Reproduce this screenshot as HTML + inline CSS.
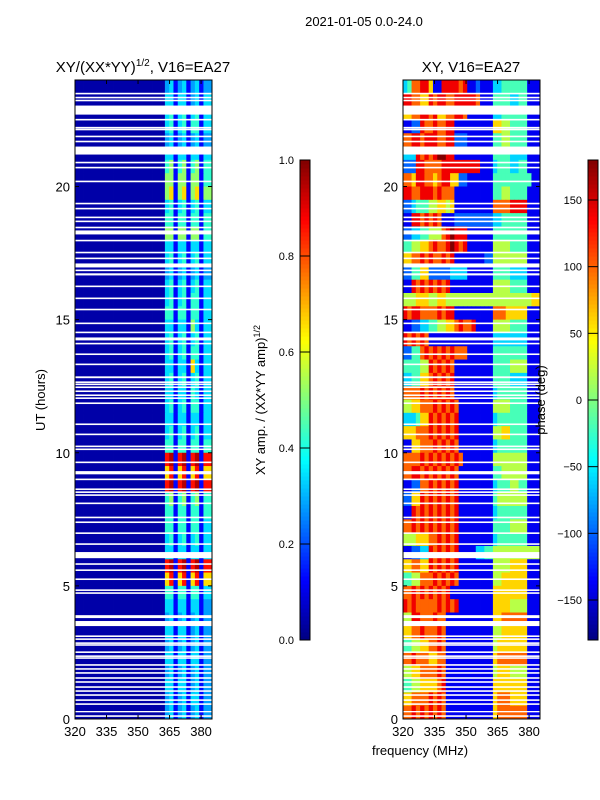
<!DOCTYPE html>
<html><head><meta charset="utf-8"><style>
html,body{margin:0;padding:0;background:#fff;}
svg{display:block;font-family:"Liberation Sans",sans-serif;}
</style></head><body>
<svg id="fig" width="600" height="800" viewBox="0 0 600 800" xmlns="http://www.w3.org/2000/svg">
<text x="364" y="26" font-size="13" text-anchor="middle">2021-01-05 0.0-24.0</text>
<text x="143" y="72" font-size="15" text-anchor="middle">XY/(XX*YY)<tspan font-size="10" dy="-6">1/2</tspan><tspan dy="6">, V16=EA27</tspan></text>
<text x="471" y="72" font-size="15" text-anchor="middle">XY, V16=EA27</text>
<g id="left"></g>
<g id="right"></g>
<g id="axes"></g>
<text transform="translate(45,400) rotate(-90)" font-size="13" text-anchor="middle">UT (hours)</text>
<text x="420" y="755" font-size="13" text-anchor="middle">frequency (MHz)</text>
<text transform="translate(265,400) rotate(-90)" font-size="13" text-anchor="middle">XY amp. / (XX*YY amp)<tspan font-size="9" dy="-5">1/2</tspan></text>
<text transform="translate(545,400) rotate(-90)" font-size="13" text-anchor="middle">phase (deg)</text>
<g id="cbars"></g>
</svg>
<script>
// ---- data ----
const freqRange = [320, 385.2];
const hourRange = [0, 24];
const xTicks = [320, 335, 350, 365, 380];
const yTicks = [0, 5, 10, 15, 20];
const ampTicks = [0.0, 0.2, 0.4, 0.6, 0.8, 1.0];
const phaseTicks = [-150, -100, -50, 0, 50, 100, 150];
// amplitude value for each level code 0-9
const ampLevels = [0.04, 0.13, 0.2, 0.28, 0.34, 0.42, 0.52, 0.66, 0.86, 0.95];
// amplitude rows, top (23.5-24h) to bottom (0-0.5h)
const ampBg = "000000000000000000000";
const ampStripes = [
"34134134133","44144134144","45145145144","45145155144","34134134133","44144144144",
"56156156155","66166166155","67167167166","45145145144","55155155155","66166166155",
"44144144144","45145145144","34134134133","45145145144","45145155144","55155155144",
"44144164144","45145145144","45145155144","44144174144","45145145144","44144154144",
"45145155144","44144144144","45145145144","55155155155","89189189188","78178178177",
"89189189188","56156156155","55155155155","55155155144","45145145144","44144144144",
"89189189188","78178178177","55155155144","44144144133","34134134133","44144134133",
"34134134133","44144144133","34134134133","44144134133","34134144133","34134134133"];
// phase rows, digit d -> phase -180 + d*40
const phaseRows = [
"347788611888878112111334444441 11","887766878877888887111444433441 11","667788786677887111111334444441 11",
"112287787788111111111665544441 11","778878887788222111111445544441 11","333878789988111111111444433331 11",
"222887777888888888111344433441 11","776887767886622111111444444444 11","887788878777111111111445544441 11",
"223444556656111111111777788881 11","118878787111222222222334444441 11","223344555789888111111444444441 11",
"445566787789878111111555544441 11","667787877878111111122555555551 11","224466222223333111111444433331 11",
"118787878781111111111555544441 11","555666556655555555555555555555 66","878877778788111111111777666661 11",
"112233445566787781111555544441 11","878787111111111111111333333331 11","224478787878777111111444444441 11",
"444455878787111111111444455551 11","334466787878111111111444433331 11","777787878787111111111344444441 11",
"556677787878711111111555544441 11","333466878787811111111344444441 11","666777878787811111111556644441 11",
"116677787878711111111344444441 11","777787878787871111111555555551 11","778878787878711111111445555551 11",
"112277878787811111111344455441 11","226687878787811111111455555551 11","118787878787811111111344444441 11",
"778787878787811111111444455551 11","555666778787811111111344444441 11","112233878787811113344555555555 55",
"667766878787811111111555566661 11","445577787878711111111556666661 11","778787878781111111111666666661 11",
"878777778787811111111666655551 11","558877787711111111111667777771 11","667787778711111111111556666661 11",
"445566778711111111111566666661 11","778777667711111111111677777771 11","556677778711111111111566655551 11",
"445566667811111111111666666661 11","667777878711111111111677766661 11","778787878711111111111677777771 11"];
// white gaps (missing data), hours [start, end]
const gaps = [[23.46,23.52],[23.31,23.37],[23.2,23.26],[22.7,23.04],[22.48,22.54],[22.18,22.24],[22.11,22.17],
[21.85,21.91],[21.66,21.72],[21.2,21.5],[20.87,20.93],[20.68,20.74],[20.16,20.22],[19.33,19.39],[19.14,19.2],
[18.81,18.87],[18.66,18.72],[18.43,18.49],[18.2,18.35],[17.94,18.0],[17.49,17.55],[17.27,17.33],[16.96,17.11],
[16.82,16.88],[16.66,16.74],[16.22,16.28],[15.77,15.83],[15.35,15.41],[14.83,14.89],[14.49,14.55],[14.22,14.33],
[14.07,14.13],[13.67,13.73],[13.29,13.35],[12.8,12.87],[12.62,12.68],[12.54,12.6],[12.43,12.49],[12.28,12.34],
[12.13,12.19],[12.02,12.08],[11.83,11.89],[11.04,11.1],[10.66,10.72],[10.21,10.27],[10.1,10.16],[9.61,9.67],
[9.19,9.31],[8.97,9.03],[8.6,8.66],[8.49,8.55],[8.38,8.44],[8.07,8.13],[7.54,7.6],[7.36,7.42],[6.95,7.01],
[6.54,6.6],[6.04,6.27],[5.79,5.85],[5.56,5.62],[5.22,5.28],[4.81,4.87],[4.7,4.76],[3.79,3.9],[3.49,3.68],
[3.08,3.14],[2.97,3.03],[2.82,2.88],[2.75,2.81],[2.48,2.54],[2.33,2.39],[2.26,2.32],[2.0,2.06],[1.85,1.91],
[1.7,1.76],[1.51,1.57],[1.36,1.42],[1.17,1.23],[1.02,1.08],[0.87,0.93],[0.68,0.74],[0.53,0.59],[0.26,0.3],[0.08,0.14]];

// ---- helpers ----
const NS = "http://www.w3.org/2000/svg";
function jet(t){
  t = Math.max(0, Math.min(1, t));
  const c = v => Math.round(255*Math.max(0, Math.min(1, v)));
  const r = 1.5 - Math.abs(4*t - 3), g = 1.5 - Math.abs(4*t - 2), b = 1.5 - Math.abs(4*t - 1);
  return "rgb(" + c(r) + "," + c(g) + "," + c(b) + ")";
}
function mk(tag, attrs, parent){
  const e = document.createElementNS(NS, tag);
  for (const k in attrs) e.setAttribute(k, attrs[k]);
  parent.appendChild(e); return e;
}
const PY0 = 80, PY1 = 719;
function yScale(h){ return PY1 - (h - hourRange[0]) / (hourRange[1] - hourRange[0]) * (PY1 - PY0); }
function xScaleFor(px0, px1){ return f => px0 + (f - freqRange[0]) / (freqRange[1] - freqRange[0]) * (px1 - px0); }
const panels = [{x0:75, x1:212, g:document.getElementById("left"), kind:"amp"},
                {x0:403, x1:540, g:document.getElementById("right"), kind:"phase"}];

panels.forEach(p => {
  const xs = xScaleFor(p.x0, p.x1);
  const nRows = p.kind === "amp" ? ampStripes.length : phaseRows.length;
  const rowH = (hourRange[1] - hourRange[0]) / nRows;
  for (let r = 0; r < nRows; r++){
    const vals = p.kind === "amp" ? (ampBg + ampStripes[r]) : phaseRows[r].replace(" ", "");
    const nC = vals.length, fw = (freqRange[1] - freqRange[0]) / nC;
    const hTop = hourRange[1] - r*rowH, hBot = hTop - rowH;
    for (let c = 0; c < nC; c++){
      const d = +vals[c];
      let t;
      if (p.kind === "amp") t = ampLevels[d];
      else { const ph = -180 + d*40; t = (ph + 180) / 360; }
      const xa = xs(freqRange[0] + c*fw), xb = xs(freqRange[0] + (c+1)*fw);
      const rect = mk("rect", {x:xa.toFixed(2), y:yScale(hTop).toFixed(2), width:(xb-xa+0.4).toFixed(2), height:(yScale(hBot)-yScale(hTop)+0.4).toFixed(2), fill:jet(t)}, p.g);
      
      
    }
  }
  gaps.forEach(gp => {
    const ya = yScale(gp[1]), yb = yScale(gp[0]);
    const gr = mk("rect", {x:p.x0, y:ya.toFixed(2), width:p.x1-p.x0, height:Math.max(1.3, yb-ya).toFixed(2), fill:"#fff"}, p.g);
    
    
  });
  const ax = document.getElementById("axes");
  const fr = mk("rect", {x:p.x0, y:PY0, width:p.x1-p.x0, height:PY1-PY0, fill:"none", stroke:"#000", "stroke-width":1}, ax);
  
  
  xTicks.forEach(v => {
    const x = xs(v);
    mk("line", {x1:x, y1:PY1, x2:x, y2:PY1-4, stroke:"#000"}, ax);
    mk("line", {x1:x, y1:PY0, x2:x, y2:PY0+4, stroke:"#000"}, ax);
    const t = mk("text", {x:x, y:PY1+17, "font-size":13, "text-anchor":"middle"}, ax);
    t.textContent = v;
    
    
  });
  yTicks.forEach(v => {
    const y = yScale(v);
    mk("line", {x1:p.x0, y1:y, x2:p.x0+4, y2:y, stroke:"#000"}, ax);
    mk("line", {x1:p.x1, y1:y, x2:p.x1-4, y2:y, stroke:"#000"}, ax);
    const t = mk("text", {x:p.x0-5, y:y+5, "font-size":13, "text-anchor":"end"}, ax);
    t.textContent = v;
    
    
  });
});

// colorbars
const cb = document.getElementById("cbars");
const CY0 = 160, CY1 = 640;
function colorbar(x, ticks, vmin, vmax, fmt){
  const n = 120;
  for (let i = 0; i < n; i++){
    const t = (i + 0.5) / n;
    mk("rect", {x:x, y:(CY1 - (i+1)*(CY1-CY0)/n).toFixed(2), width:10, height:((CY1-CY0)/n + 0.5).toFixed(2), fill:jet(t)}, cb);
  }
  const fr = mk("rect", {x:x, y:CY0, width:10, height:CY1-CY0, fill:"none", stroke:"#000"}, cb);
  
  
  ticks.forEach(v => {
    const y = CY1 - (v - vmin) / (vmax - vmin) * (CY1 - CY0);
    mk("line", {x1:x, y1:y, x2:x+10, y2:y, stroke:"#000"}, cb);
    const t = mk("text", {x:x-6, y:y+4, "font-size":11, "text-anchor":"end"}, cb);
    t.textContent = fmt(v);
    
    
  });
}
colorbar(300, ampTicks, 0, 1, v => v.toFixed(1));
colorbar(588, phaseTicks, -180, 180, v => (v < 0 ? "\u2212" + (-v) : "" + v));
</script>
</body></html>
